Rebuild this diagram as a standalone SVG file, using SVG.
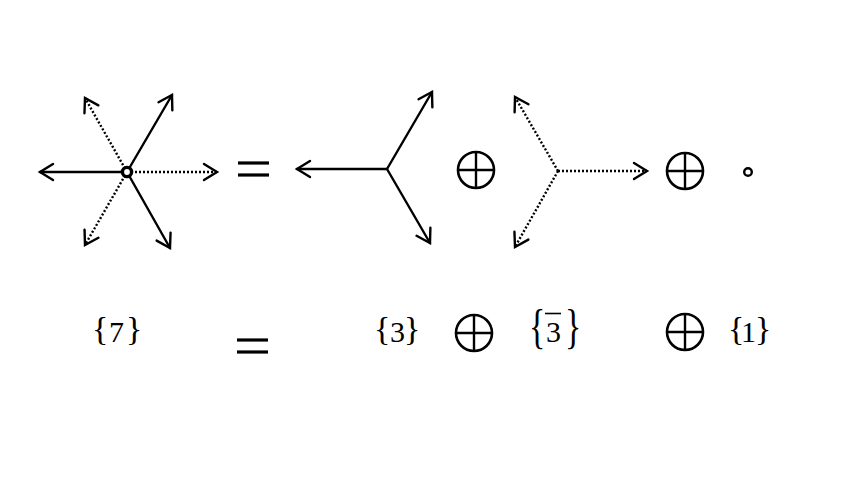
<svg xmlns="http://www.w3.org/2000/svg" width="854" height="481" viewBox="0 0 854 481">
<style>
.s{stroke:#000;stroke-width:2.4;fill:none;stroke-linecap:round}
.d{stroke:#000;stroke-width:2.4;fill:none;stroke-dasharray:2 2}
.eq{stroke:#000;stroke-width:3.2}
.op circle{fill:none;stroke:#000;stroke-width:2.6}
.op line{stroke:#000;stroke-width:2.4}
.lbl{font-family:"Liberation Serif","Times New Roman",serif;fill:#000}
.t{font-size:30px}
.b{font-size:34px}
</style>
<defs>
<marker id="ah" markerUnits="userSpaceOnUse" markerWidth="30" markerHeight="30" viewBox="-15 -15 30 30" refX="0" refY="0" orient="auto">
<path d="M-13,-8 L0,0 L-13,8" fill="none" stroke="#000" stroke-width="2.4" stroke-linecap="round" stroke-linejoin="miter"/>
</marker>
<g id="oplus" class="op">
<circle cx="0" cy="0" r="18"/>
<line x1="-18" y1="0" x2="18" y2="0"/>
<line x1="0" y1="-18" x2="0" y2="18"/>
</g>
</defs>
<rect width="854" height="481" fill="#fff"/>
<g id="connectors">
<line class="s" x1="127" y1="172" x2="40" y2="172" marker-end="url(#ah)"/>
<line class="s" x1="127" y1="172" x2="172" y2="95" marker-end="url(#ah)"/>
<line class="s" x1="127" y1="172" x2="170" y2="248" marker-end="url(#ah)"/>
<line class="d" x1="127" y1="172" x2="217" y2="172" marker-end="url(#ah)"/>
<line class="d" x1="127" y1="172" x2="85" y2="98" marker-end="url(#ah)"/>
<line class="d" x1="127" y1="172" x2="85" y2="245" marker-end="url(#ah)"/>
<line class="s" x1="387" y1="169" x2="297" y2="169" marker-end="url(#ah)"/>
<line class="s" x1="387" y1="169" x2="432" y2="92" marker-end="url(#ah)"/>
<line class="s" x1="387" y1="169" x2="430" y2="243" marker-end="url(#ah)"/>
<line class="d" x1="558" y1="171" x2="647" y2="171" marker-end="url(#ah)"/>
<line class="d" x1="558" y1="171" x2="515" y2="97" marker-end="url(#ah)"/>
<line class="d" x1="558" y1="171" x2="515" y2="247" marker-end="url(#ah)"/>
</g>
<g id="star-center">
<circle cx="127" cy="172" r="4.6" fill="#fff" stroke="#000" stroke-width="3.4"/>
</g>
<g id="eq-top">
<line class="eq" x1="238" y1="163" x2="269" y2="163"/>
<line class="eq" x1="238" y1="175" x2="269" y2="175"/>
</g>
<g id="oplus-top-1"><use href="#oplus" x="476" y="170"/></g>
<g id="oplus-top-2"><use href="#oplus" x="685" y="171"/></g>
<g id="singlet-dot">
<circle cx="748" cy="172" r="3.8" fill="none" stroke="#000" stroke-width="2.4"/>
</g>
<g id="label-7">
<text class="lbl"><tspan class="b" x="92" y="340">{</tspan><tspan class="t" x="109" y="342">7</tspan><tspan class="b" x="126" y="340">}</tspan></text>
</g>
<g id="eq-bottom">
<line class="eq" x1="237" y1="340" x2="268" y2="340"/>
<line class="eq" x1="237" y1="352" x2="268" y2="352"/>
</g>
<g id="label-3">
<text class="lbl"><tspan class="b" x="374" y="340">{</tspan><tspan class="t" x="390" y="342">3</tspan><tspan class="b" x="404" y="340">}</tspan></text>
</g>
<g id="oplus-bottom-1"><use href="#oplus" x="474" y="333"/></g>
<g id="label-3bar">
<text class="lbl b" x="529" y="343" transform="translate(0,343) scale(1,1.45) translate(0,-343)">{</text>
<text class="lbl t" x="546" y="342">3</text>
<line x1="545" y1="313.5" x2="561" y2="313.5" stroke="#000" stroke-width="1.6"/>
<text class="lbl b" x="565" y="343" transform="translate(0,343) scale(1,1.45) translate(0,-343)">}</text>
</g>
<g id="oplus-bottom-2"><use href="#oplus" x="685" y="332"/></g>
<g id="label-1">
<text class="lbl"><tspan class="b" x="728" y="340">{</tspan><tspan class="t" x="741" y="342">1</tspan><tspan class="b" x="755" y="340">}</tspan></text>
</g>
</svg>
